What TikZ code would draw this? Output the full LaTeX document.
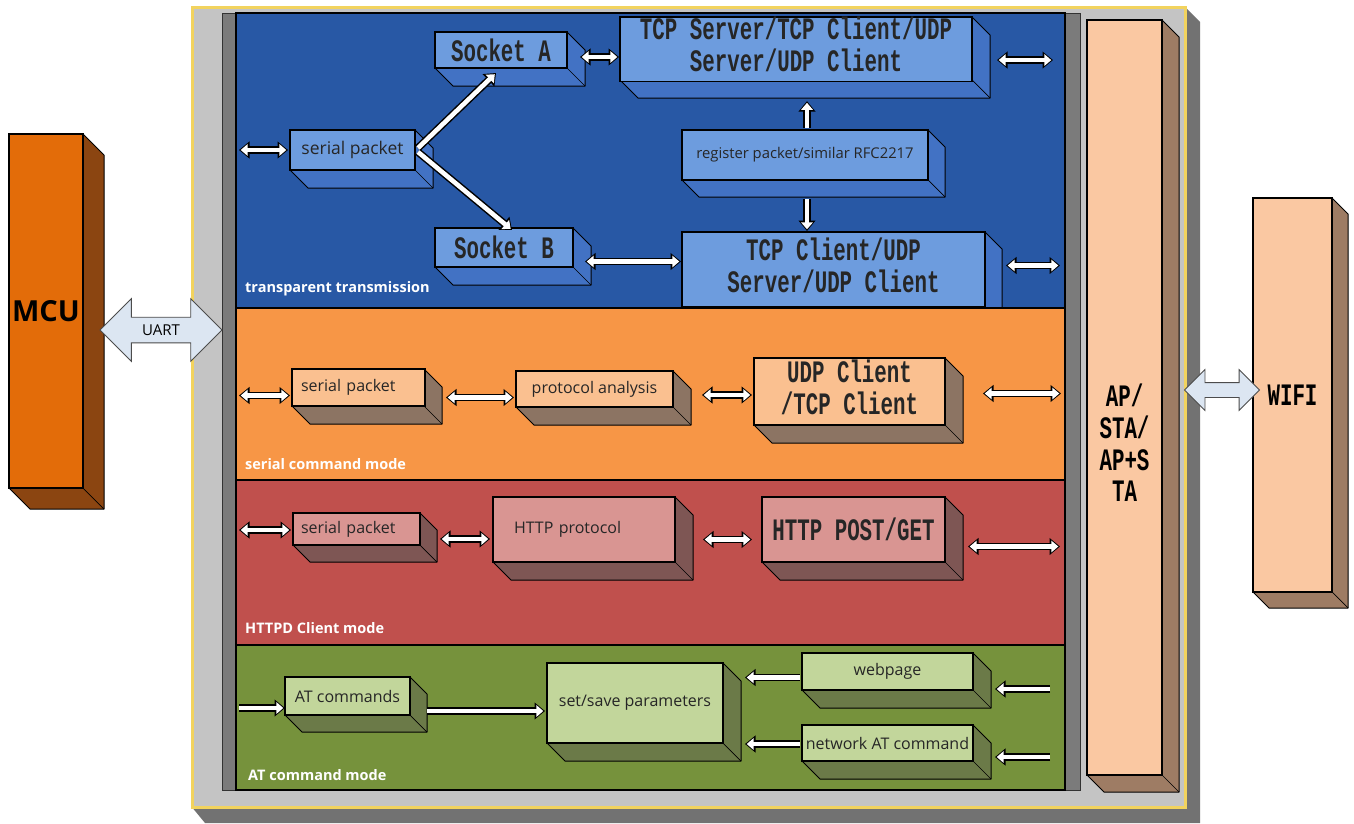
\documentclass[tikz,border=0pt]{standalone}
\usepackage{fontspec}
\usepackage{graphicx}
\setmainfont{Open Sans}
\newfontfamily\bitf{Liberation Mono}
\usetikzlibrary{arrows.meta,calc,shapes.arrows}

\definecolor{pblue}{HTML}{2858A5}
\definecolor{bluefront}{HTML}{6D9CDE}
\definecolor{blueside}{HTML}{4272C4}
\definecolor{porange}{HTML}{F79646}
\definecolor{orangefront}{HTML}{FAC090}
\definecolor{orangeside}{HTML}{8C7463}
\definecolor{pred}{HTML}{C0504D}
\definecolor{redfront}{HTML}{D99592}
\definecolor{redside}{HTML}{7E5654}
\definecolor{pgreen}{HTML}{76923C}
\definecolor{greenfront}{HTML}{C2D69B}
\definecolor{greenside}{HTML}{6B7A48}
\definecolor{mcufront}{HTML}{E36C09}
\definecolor{mcuside}{HTML}{8B4511}
\definecolor{apfront}{HTML}{FAC8A2}
\definecolor{apside}{HTML}{9E7C64}
\definecolor{fgray}{HTML}{C4C4C4}
\definecolor{fdark}{HTML}{727272}
\definecolor{fyellow}{HTML}{F2D35E}
\definecolor{barcol}{HTML}{7B7B7B}
\definecolor{uartfill}{HTML}{DCE6F2}

\newcommand{\bt}[1]{\scalebox{1}[1.5]{\bitf\bfseries\fontsize{20.8}{21}\selectfont #1}}

% #1 extra node options, #2 colour prefix, #3 name, #4 x1, #5 y1, #6 x2, #7 y2, #8 depth, #9 text
\newcommand{\tdbox}[9][]{%
  \filldraw[fill=#2side, draw=black, line width=1pt, line join=round]
    (#4,#7) -- ({#4+#8},{#7+#8}) -- ({#6+#8},{#7+#8}) -- ({#6+#8},{#5+#8}) -- (#6,#5) -- cycle;
  \draw[line width=0.7pt] (#6,#7) -- ({#6+#8},{#7+#8});
  \node[fbox, fill=#2front, minimum width={#6-#4}, minimum height={#7-#5}, anchor=north west, #1] (#3) at (#4,#5) {#9};
}

\tikzset{
  fbox/.style={draw=black, line width=1.1pt, inner sep=0pt, outer sep=0pt, align=center,
    font=\fontsize{16}{19}\selectfont, text=black!85},
  panel/.style={draw=black, line width=1.5pt, inner sep=0pt, outer sep=0pt, anchor=north west},
  lab/.style={text=white, font=\bfseries\fontsize{14.5}{17}\selectfont, anchor=west, inner sep=0pt},
  wa/.style={white, line width=4.6pt, shorten >=1.7pt, -{Triangle[length=7pt,width=11.5pt,color=white]},
    preaction={draw=black, line width=7.6pt, shorten >=0pt, -{Triangle[length=10.5pt,width=16.5pt,color=black]}}},
  wab/.style={white, line width=4.6pt, shorten >=1.7pt, shorten <=1.7pt,
    {Triangle[length=7pt,width=11.5pt,color=white]}-{Triangle[length=7pt,width=11.5pt,color=white]},
    preaction={draw=black, line width=7.6pt, shorten >=0pt, shorten <=0pt,
      {Triangle[length=10.5pt,width=16.5pt,color=black]}-{Triangle[length=10.5pt,width=16.5pt,color=black]}}},
}

\begin{document}
\begin{tikzpicture}[x=1pt,y=-1pt]
\useasboundingbox (0,0) rectangle (1354,823);
\fill[white] (0,0) rectangle (1354,823);

% ---- outer frame ----
\fill[fdark] (1184,6) -- (1200,22) -- (1200,823) -- (205,823) -- (191,806) -- cycle;
\node[draw=fyellow, line width=2.5pt, fill=fgray, minimum width=993, minimum height=800,
  anchor=north west, inner sep=0pt] (frame) at (191,6) {};
\filldraw[fill=barcol, draw=black!80, line width=0.8pt] (222,13) rectangle (236,790);
\filldraw[fill=barcol, draw=black!80, line width=0.8pt] (1065,13) rectangle (1080,790);

% ---- AP/STA box ----
\tdbox{ap}{ap}{1087}{20}{1162}{775}{17}{}
\node at ($(ap.center)+(0,50)$) (aptext) {\bt{\begin{tabular}{@{}c@{}}AP/\\STA/\\AP+S\\TA\end{tabular}}};

% ---- blue panel ----
\node[panel, fill=pblue, minimum width=829, minimum height=295] (pb) at (236,13) {};
\tdbox[font=\fontsize{17.5}{20}\selectfont]{blue}{spb}{290}{130}{415}{170}{18}{serial packet}
\tdbox{blue}{socka}{435}{32}{567}{68}{18}{\bt{Socket A}}
\tdbox{blue}{sockb}{435}{228}{573}{267}{18}{\bt{Socket B}}
\tdbox{blue}{tcps}{620}{17}{972}{80}{18}{\bt{\begin{tabular}{@{}c@{}}TCP Server/TCP Client/UDP\\Server/UDP Client\end{tabular}}}
\tdbox[font=\fontsize{14.8}{18}\selectfont]{blue}{reg}{682}{130}{928}{180}{17}{register packet/similar RFC2217}
\tdbox{blue}{tcpc}{682}{232}{985}{307}{17}{\bt{\begin{tabular}{@{}c@{}}TCP Client/UDP\\Server/UDP Client\end{tabular}}}
\node[lab] (lb) at ($(pb.south west)+(9,-19)$) {transparent transmission};

\draw[wab] ($(pb.west |- spb.west)+(3,0)$) -- ($(spb.west)+(-2,0)$);
\draw[wa] ($(spb.east)+(3,-2)$) -- ($(socka.south)+(-5,5)$);
\draw[wa] ($(spb.east)+(3,2)$) -- ($(sockb.north)+(8,2)$);
\draw[wab] ($(socka.east)+(13,7)$) -- ($(socka.east -| tcps.west)+(-1,7)$);
\draw[wab] ($(tcps.east)+(25,11)$) -- ($(tcps.east -| pb.east)+(-12,11)$);
\draw[wa] ($(reg.north)+(2,-2)$) -- ($(reg.north |- tcps.south)+(2,20)$);
\draw[wa] ($(reg.south)+(2,19)$) -- ($(tcpc.north -| reg.south)+(2,-1)$);
\draw[wab] ($(sockb.east)+(12,14)$) -- ($(sockb.east -| tcpc.west)+(-1,14)$);
\draw[wab] ($(tcpc.east)+(21,-4)$) -- ($(tcpc.east -| pb.east)+(-5,-4)$);

% ---- orange panel ----
\node[panel, fill=porange, minimum width=829, minimum height=172] (po) at (236,308) {};
\tdbox[text width=115pt, align=left, inner xsep=9pt]{orange}{sso}{292}{369}{424}{406}{18}{serial packet}
\tdbox{orange}{pa}{516}{371}{673}{407}{18}{protocol analysis}
\tdbox{orange}{udp}{754}{358}{945}{425}{18}{\bt{\begin{tabular}{@{}c@{}}UDP Client\\/TCP Client\end{tabular}}}
\node[lab] (lo) at ($(po.south west)+(9,-16)$) {serial command mode};

\draw[wab] ($(po.west |- sso.west)+(3,8)$) -- ($(sso.west)+(-2,8)$);
\draw[wab] ($(sso.east)+(21,10)$) -- ($(sso.east -| pa.west)+(-2,10)$);
\draw[wab] ($(pa.east)+(29,6)$) -- ($(pa.east -| udp.west)+(-2,6)$);
\draw[wab] ($(udp.east)+(38,2)$) -- ($(udp.east -| po.east)+(-4,2)$);

% ---- red panel ----
\node[panel, fill=pred, minimum width=829, minimum height=165] (pr) at (236,480) {};
\tdbox[text width=111pt, align=left, inner xsep=8pt]{red}{ssr}{293}{513}{420}{545}{17}{serial packet}
\tdbox[text width=140pt, align=left, inner xsep=21pt]{red}{http}{493}{497}{675}{562}{18}{HTTP protocol}
\tdbox{red}{post}{762}{497}{945}{562}{18}{\bt{HTTP POST/GET}}
\node[lab] (lr) at ($(pr.south west)+(9,-17)$) {HTTPD Client mode};

\draw[wab] ($(pr.west |- ssr.west)+(3,1)$) -- ($(ssr.west)+(-2,1)$);
\draw[wab] ($(ssr.east)+(20,10)$) -- ($(ssr.east -| http.west)+(-3,10)$);
\draw[wab] ($(http.east)+(28,10)$) -- ($(http.east -| post.west)+(-10,10)$);
\draw[wab] ($(post.east)+(23,17)$) -- ($(post.east -| pr.east)+(-5,17)$);

% ---- green panel ----
\node[panel, fill=pgreen, minimum width=829, minimum height=145] (pg) at (236,645) {};
\tdbox{green}{at}{285}{677}{410}{715}{17}{AT commands}
\tdbox{green}{ssp}{547}{663}{723}{743}{18}{set/save parameters}
\tdbox{green}{web}{802}{653}{973}{690}{18}{webpage}
\tdbox{green}{nat}{802}{725}{973}{761}{18}{network AT command}
\node[lab] (lg) at ($(pg.south west)+(12,-15)$) {AT command mode};

\draw[wa] ($(pg.west |- at.west)+(3,12)$) -- ($(at.west)+(0,12)$);
\draw[wa] ($(at.east)+(17,15)$) -- ($(at.east -| ssp.west)+(-2,15)$);
\draw[wa] ($(web.west)+(-2,6)$) -- ($(web.west -| ssp.east)+(22,6)$);
\draw[wa] ($(nat.west)+(-2,1)$) -- ($(nat.west -| ssp.east)+(22,1)$);
\draw[wa] ($(web.east -| pg.east)+(-15,17.5)$) -- ($(web.east)+(22,17.5)$);
\draw[wa] ($(nat.east -| pg.east)+(-15,14)$) -- ($(nat.east)+(22,14)$);

% ---- MCU and WIFI ----
\tdbox[font=\bfseries\fontsize{29}{32}\selectfont, text=black]{mcu}{mcu}{9}{134}{83}{488}{21}{MCU}
\tdbox[text=black]{ap}{wifi}{1253}{198}{1332}{592}{16}{\bt{WIFI}}

\node[double arrow, draw=black!70, line width=0.8pt, fill=uartfill, minimum height=122pt,
  double arrow head extend=18.5pt, inner xsep=0pt, inner ysep=7pt,
  font=\fontsize{15}{18}\selectfont] (uart) at (161,330) {UART};
\node[double arrow, draw=black!70, line width=0.8pt, fill=uartfill, minimum height=75pt,
  double arrow head extend=13pt, inner sep=0pt, inner ysep=7pt] (wifiarrow) at (1222,390) {};
\end{tikzpicture}
\end{document}
